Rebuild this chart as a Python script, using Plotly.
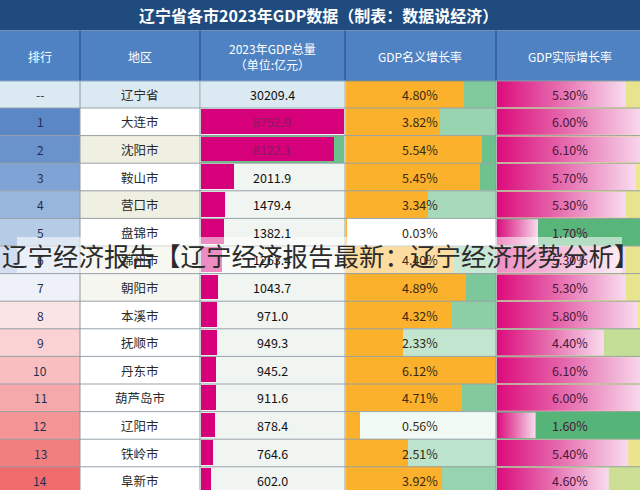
import plotly.graph_objects as go

# ---------------- data ----------------
ranks = ["--", "1", "2", "3", "4", "5", "6", "7", "8", "9", "10", "11", "12", "13", "14"]
regions = ["辽宁省", "大连市", "沈阳市", "鞍山市", "营口市", "盘锦市", "锦州市", "朝阳市",
           "本溪市", "抚顺市", "丹东市", "葫芦岛市", "辽阳市", "铁岭市", "阜新市"]
gdp = [30209.4, 8752.9, 8122.1, 2011.9, 1479.4, 1382.1, 1263.4, 1043.7,
       971.0, 949.3, 945.2, 911.6, 878.4, 764.6, 602.0]
nominal = [4.80, 3.82, 5.54, 5.45, 3.34, 0.03, 4.40, 4.89, 4.32, 2.33, 6.12, 4.71, 0.56, 2.51, 3.92]
real = [5.30, 6.00, 6.10, 5.70, 5.30, 1.70, 5.30, 5.30, 5.80, 4.40, 6.10, 6.00, 1.60, 5.40, 4.60]

title_text = "辽宁省各市2023年GDP数据（制表：数据说经济）"
headers = ["排行", "地区", "2023年GDP总量<br>（单位:亿元）", "GDP名义增长率", "GDP实际增长率"]
watermark = "辽宁经济报告【辽宁经济报告最新：辽宁经济形势分析】"

# ---------------- styles ----------------
W, H = 640, 490
FONT = "Noto Sans CJK SC"
col_edges = [0, 80, 200, 345, 496, 640]
body_top = 80.4
row_h = 27.6
n = len(ranks)

rank_colors = ["#dbe9f2", "#5b87c6", "#6a93cc", "#7fa3d4", "#98b5dc", "#b6cbe6", "#d3def0",
               "#eef1f8", "#fbe4e6", "#fad2d4", "#f8bec0", "#f6a9ab", "#f49495", "#f27f80", "#f06c6c"]
city_bg = ["#dbe9f2", "#ffffff", "#efefe2", "#ffffff", "#efefe2", "#ffffff", "#efefe2", "#f6f6f0",
           "#ffffff", "#ffffff", "#ffffff", "#ffffff", "#ffffff", "#ffffff", "#ffffff"]
gdp_rest = ["#dbe9f2", "#eef4f0", "#6cc08a"] + ["#f1f5f2"] * (n - 3)
gdp_text_col = ["#111111", "#8a1c5a", "#8a1c5a"] + ["#111111"] * (n - 3)


def X(px):
    return px / W


def Y(px):
    return 1 - px / H


def hex2rgb(h):
    h = h.lstrip("#")
    return [int(h[i:i + 2], 16) for i in (0, 2, 4)]


def interp(stops, v):
    if v <= stops[0][0]:
        return stops[0][1]
    for (v0, c0), (v1, c1) in zip(stops[:-1], stops[1:]):
        if v <= v1:
            t = (v - v0) / (v1 - v0)
            a, b = hex2rgb(c0), hex2rgb(c1)
            return "rgb(%d,%d,%d)" % tuple(round(a[k] + t * (b[k] - a[k])) for k in range(3))
    return stops[-1][1]


nom_max = max(nominal)
nom_rest = [interp([(0, "#ffffff"), (nom_max, "#5cba80")], v) for v in nominal]
real_rest = [interp([(1.6, "#55b579"), (4.4, "#c5de97"), (5.4, "#ece48c"), (6.1, "#f3e98f")], v) for v in real]

rows = list(range(n))
city_max = max(gdp[1:])
real_range = (col_edges[5] - 496.5) / 24.4

fig = go.Figure()

fig.add_trace(go.Bar(x=[1] * n, y=rows, orientation="h", width=1, marker=dict(color=rank_colors, line_width=0),
                     xaxis="x", yaxis="y", hoverinfo="skip", showlegend=False))
fig.add_trace(go.Bar(x=[1] * n, y=rows, orientation="h", width=1, marker=dict(color=city_bg, line_width=0),
                     xaxis="x2", yaxis="y", hoverinfo="skip", showlegend=False))
fig.add_trace(go.Bar(x=[city_max * 1.02] * n, y=rows, orientation="h", width=1,
                     marker=dict(color=gdp_rest, line_width=0),
                     xaxis="x3", yaxis="y", hoverinfo="skip", showlegend=False))
gdp_bar = [None] + gdp[1:]
fig.add_trace(go.Bar(x=gdp_bar, y=rows, orientation="h", width=0.9,
                     marker=dict(color="#d5007a", line_width=0),
                     xaxis="x3", yaxis="y", hoverinfo="skip", showlegend=False))
fig.add_trace(go.Bar(x=[nom_max * 1.02] * n, y=rows, orientation="h", width=1,
                     marker=dict(color=nom_rest, line_width=0),
                     xaxis="x4", yaxis="y", hoverinfo="skip", showlegend=False))
fig.add_trace(go.Bar(x=nominal, y=rows, orientation="h", width=1,
                     marker=dict(color="#fbb12c", line_width=0),
                     xaxis="x4", yaxis="y", hoverinfo="skip", showlegend=False))
fig.add_trace(go.Bar(x=[max(real) * 1.1] * n, y=rows, orientation="h", width=1,
                     marker=dict(color=real_rest, line_width=0),
                     xaxis="x5", yaxis="y", hoverinfo="skip", showlegend=False))
for i, v in enumerate(real):
    fig.add_trace(go.Scatter(
        x=[0, v, v, 0, 0], y=[i - 0.47, i - 0.47, i + 0.47, i + 0.47, i - 0.47],
        mode="lines", line=dict(width=0), fill="toself",
        fillgradient=dict(type="horizontal",
                          colorscale=[[0, "#dc0a7c"], [0.45, "#e566ab"], [1, "#f8dcee"]]),
        xaxis="x5", yaxis="y", hoverinfo="skip", showlegend=False))

shapes = []
shapes.append(dict(type="rect", xref="paper", yref="paper", x0=0, x1=1, y0=Y(30.5), y1=1,
                   fillcolor="#1f4b7e", line_width=0, layer="above"))
shapes.append(dict(type="rect", xref="paper", yref="paper", x0=0, x1=1, y0=Y(body_top), y1=Y(30.5),
                   fillcolor="#4f82c2", line_width=0, layer="above"))
for e in col_edges[1:5]:
    shapes.append(dict(type="line", xref="paper", yref="paper", x0=X(e), x1=X(e), y0=Y(body_top), y1=Y(30.5),
                       line=dict(color="#2f5e98", width=1.5), layer="above"))
for i in range(n):
    shapes.append(dict(type="line", xref="paper", yref="y", x0=0, x1=1, y0=i + 0.5, y1=i + 0.5,
                       line=dict(color="#98a2a8", width=1), layer="above"))
shapes.append(dict(type="line", xref="paper", yref="y", x0=0, x1=1, y0=-0.5, y1=-0.5,
                   line=dict(color="#3d6aa3", width=1.5), layer="above"))
for e in col_edges[1:5]:
    shapes.append(dict(type="line", xref="paper", yref="paper", x0=X(e), x1=X(e), y0=0, y1=Y(body_top),
                       line=dict(color="#8e989e", width=1), layer="above"))
shapes.append(dict(type="rect", xref="paper", yref="paper", x0=X(17), x1=X(622), y0=Y(273), y1=Y(237),
                   fillcolor="rgba(255,255,255,0.55)", line_width=0, layer="above"))

ann = []


def add_text(text, x, y, yref, size, color):
    ann.append(dict(text=text, x=x, y=y, xref="paper", yref=yref, showarrow=False,
                    xanchor="center", yanchor="middle",
                    font=dict(family=FONT, size=size, color=color)))


add_text("<b>" + title_text + "</b>", X(318), Y(15), "paper", 16, "white")
head_x = [40, 140, 272, 420, 570]
for hx, t in zip(head_x, headers):
    add_text(t, X(hx), Y(56), "paper", 12, "white")
for i in rows:
    add_text(ranks[i], X(40), i, "y", 12, "#1f2f4f")
    add_text(regions[i], X(140), i, "y", 12.5, "#2a2a2a")
    add_text("%.1f" % gdp[i], X(272), i, "y", 12.5, gdp_text_col[i])
    add_text("%.2f%%" % nominal[i], X(420), i, "y", 12.5, "#3a2a12")
    add_text("%.2f%%" % real[i], X(570), i, "y", 12.5, "#4a1838")
add_text(watermark, X(321), Y(254), "paper", 25.5, "#2b2b2b")

ax_common = dict(showgrid=False, zeroline=False, showticklabels=False, ticks="", fixedrange=True, anchor="y")
fig.update_layout(
    width=W, height=H, margin=dict(l=0, r=0, t=0, b=0),
    paper_bgcolor="white", plot_bgcolor="white",
    barmode="overlay", bargap=0,
    xaxis=dict(domain=[X(0), X(80)], range=[0, 1], **ax_common),
    xaxis2=dict(domain=[X(80), X(200)], range=[0, 1], **ax_common),
    xaxis3=dict(domain=[X(201), X(344)], range=[0, city_max], **ax_common),
    xaxis4=dict(domain=[X(345.5), X(496)], range=[0, nom_max], **ax_common),
    xaxis5=dict(domain=[X(496.5), 1], range=[0, real_range], **ax_common),
    yaxis=dict(domain=[0, Y(body_top)], range=[-0.5 + (H - body_top) / row_h, -0.5],
               showgrid=False, zeroline=False, showticklabels=False, ticks="", fixedrange=True, anchor="x"),
    shapes=shapes, annotations=ann, showlegend=False,
)

fig.write_html("out.html", config={"displayModeBar": False},
               post_script="document.body.style.margin='0';document.body.style.overflow='hidden';")
